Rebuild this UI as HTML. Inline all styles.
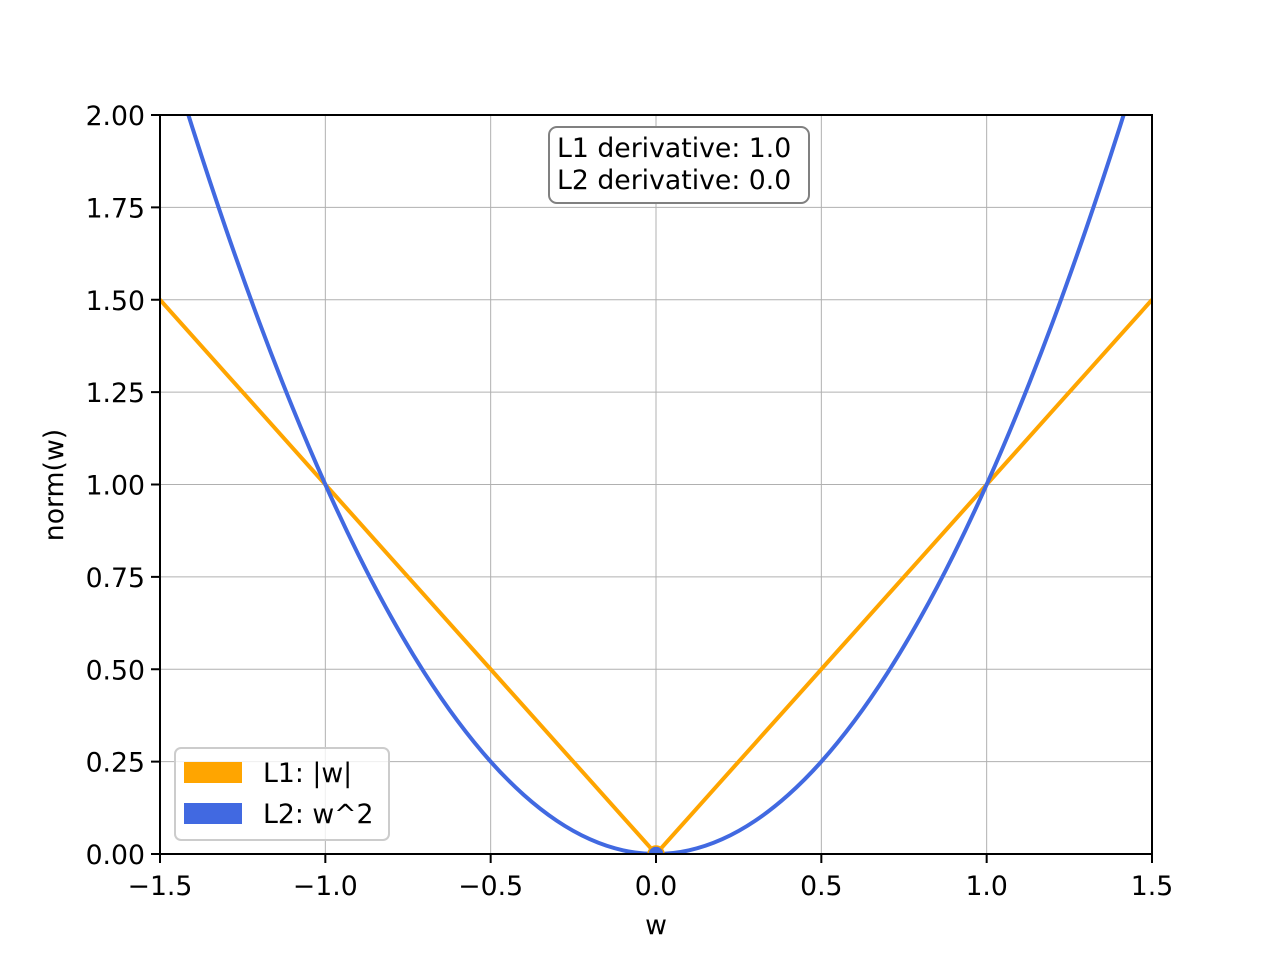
<!DOCTYPE html>
<html><head><meta charset="utf-8"><style>
body{margin:0;background:#fff}
svg{display:block;font-family:"DejaVu Sans","Liberation Sans",sans-serif}
</style></head><body>
<svg id="chart" width="1280" height="960" xmlns="http://www.w3.org/2000/svg">
<defs><clipPath id="clip"><rect x="160" y="115" width="992" height="739"/></clipPath></defs>
<rect width="1280" height="960" fill="#fff"/>
<g id="grid"></g>
<g id="series" clip-path="url(#clip)"></g>
<g id="axes"></g>
</svg>
<script>
const wValues=[-1.5,-1.4,-1.3,-1.2,-1.1,-1.0,-0.9,-0.8,-0.7,-0.6,-0.5,-0.4,-0.3,-0.2,-0.1,0,0.1,0.2,0.3,0.4,0.5,0.6,0.7,0.8,0.9,1.0,1.1,1.2,1.3,1.4,1.5];
const l1Values=[1.5,1.4,1.3,1.2,1.1,1.0,0.9,0.8,0.7,0.6,0.5,0.4,0.3,0.2,0.1,0,0.1,0.2,0.3,0.4,0.5,0.6,0.7,0.8,0.9,1.0,1.1,1.2,1.3,1.4,1.5];
const l2Values=[2.25,1.96,1.69,1.44,1.21,1.0,0.81,0.64,0.49,0.36,0.25,0.16,0.09,0.04,0.01,0,0.01,0.04,0.09,0.16,0.25,0.36,0.49,0.64,0.81,1.0,1.21,1.44,1.69,1.96,2.25];
const xTicks=[-1.5,-1.0,-0.5,0.0,0.5,1.0,1.5];
const xTickLabels=["\u22121.5","\u22121.0","\u22120.5","0.0","0.5","1.0","1.5"];
const yTicks=[0,0.25,0.5,0.75,1.0,1.25,1.5,1.75,2.0];
const yTickLabels=["0.00","0.25","0.50","0.75","1.00","1.25","1.50","1.75","2.00"];
const markerPoint=[0,0];

const X0=160,X1=1152,Y0=854,Y1=115;
const xs=v=>X0+(v+1.5)/3*(X1-X0);
const ys=v=>Y0-v/2*(Y0-Y1);
const NS="http://www.w3.org/2000/svg";
function mk(tag,attrs,parent){const e=document.createElementNS(NS,tag);for(const k in attrs)e.setAttribute(k,attrs[k]);parent.appendChild(e);return e;}
const svg=document.getElementById('chart');
const grid=document.getElementById('grid'),series=document.getElementById('series'),axes=document.getElementById('axes');

xTicks.forEach((t,i)=>{
  const g=mk('line',{x1:xs(t),x2:xs(t),y1:Y1,y2:Y0,stroke:'#b0b0b0','stroke-width':1},grid);
  
  
  const tk=mk('line',{x1:xs(t),x2:xs(t),y1:Y0,y2:Y0+9,stroke:'#000','stroke-width':2},axes);
  
  
  const tx=mk('text',{x:xs(t),y:Y0+41,'text-anchor':'middle','font-size':'26.7px',fill:'#000'},axes);
  tx.textContent=xTickLabels[i];
  
  
});
yTicks.forEach((t,i)=>{
  const g=mk('line',{x1:X0,x2:X1,y1:ys(t),y2:ys(t),stroke:'#b0b0b0','stroke-width':1},grid);
  
  
  const tk=mk('line',{x1:X0-9,x2:X0,y1:ys(t),y2:ys(t),stroke:'#000','stroke-width':2},axes);
  
  
  const tx=mk('text',{x:X0-15,y:ys(t)+10,'text-anchor':'end','font-size':'26.7px',fill:'#000'},axes);
  tx.textContent=yTickLabels[i];
  
  
});

function pts(vals){return wValues.map((w,i)=>xs(w).toFixed(2)+','+ys(vals[i]).toFixed(2)).join(' ');}
const l1=mk('polyline',{points:pts(l1Values),fill:'none',stroke:'#FFA500','stroke-width':4,'stroke-linejoin':'round'},series);


function smooth(vals){
  let d='M'+xs(wValues[0])+','+ys(vals[0]);
  for(let i=0;i<wValues.length-1;i++){
    const p0=i>0?i-1:i,p3=i+2<wValues.length?i+2:i+1;
    const x1=xs(wValues[i]),y1=ys(vals[i]),x2=xs(wValues[i+1]),y2=ys(vals[i+1]);
    const c1x=x1+(x2-xs(wValues[p0]))/6,c1y=y1+(y2-ys(vals[p0]))/6;
    const c2x=x2-(xs(wValues[p3])-x1)/6,c2y=y2-(ys(vals[p3])-y1)/6;
    d+=' C'+c1x+','+c1y+' '+c2x+','+c2y+' '+x2+','+y2;
  }
  return d;
}
const l2=mk('path',{d:smooth(l2Values),fill:'none',stroke:'#4169E1','stroke-width':4},series);


const m=mk('circle',{cx:xs(markerPoint[0]),cy:ys(markerPoint[1]),r:8,fill:'#4169E1',stroke:'#FFA500','stroke-width':1.5},series);



const frame=mk('rect',{x:X0,y:Y1,width:X1-X0,height:Y0-Y1,fill:'none',stroke:'#000','stroke-width':2},axes);


</script>
<svg style="position:absolute;left:0;top:0" width="1280" height="960" xmlns="http://www.w3.org/2000/svg" font-family="DejaVu Sans, Liberation Sans, sans-serif">
<text x="656" y="934" text-anchor="middle" font-size="26.7px">w</text>
<text transform="translate(63,485) rotate(-90)" text-anchor="middle" font-size="26.7px">norm(w)</text>
<g>
<rect x="549" y="127" width="260" height="76" rx="8" fill="#fff" stroke="#808080" stroke-width="2"/>
<text x="557" y="157" font-size="26.7px">L1 derivative: 1.0</text>
<text x="557" y="189" font-size="26.7px">L2 derivative: 0.0</text>
</g>
<g>
<rect x="175" y="748" width="214" height="92" rx="6" fill="#fff" fill-opacity="0.8" stroke="#cccccc" stroke-width="2"/>
<rect x="184" y="762" width="58" height="21" fill="#FFA500"/>
<text x="263" y="782" font-size="26.7px">L1: |w|</text>
<rect x="184" y="803" width="58" height="21" fill="#4169E1"/>
<text x="263" y="823" font-size="26.7px">L2: w^2</text>
</g>
</svg>
</body></html>
